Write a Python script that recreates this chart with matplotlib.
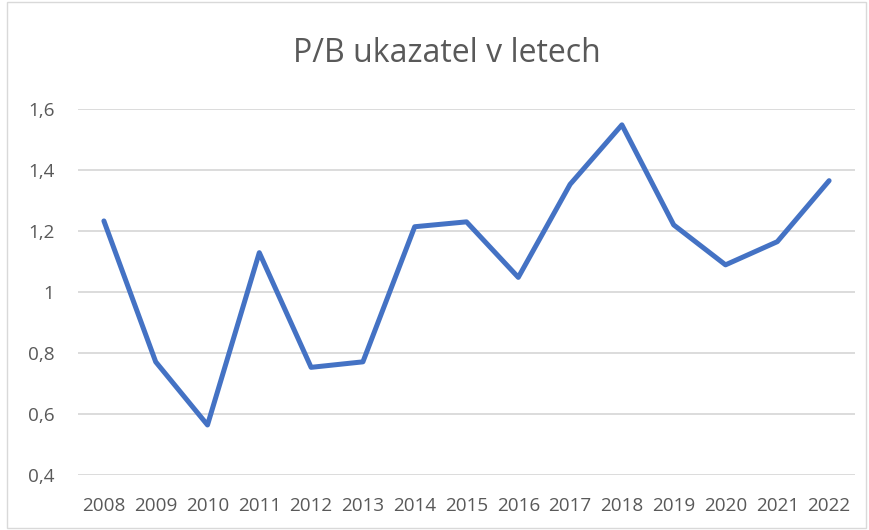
import matplotlib.pyplot as plt
from matplotlib.patches import Rectangle

years = ["2008", "2009", "2010", "2011", "2012", "2013", "2014", "2015",
         "2016", "2017", "2018", "2019", "2020", "2021", "2022"]
pb = [1.233, 0.771, 0.564, 1.129, 0.753, 0.771, 1.214, 1.230,
      1.048, 1.353, 1.548, 1.220, 1.089, 1.165, 1.365]
yticks = [0.4, 0.6, 0.8, 1.0, 1.2, 1.4, 1.6]
ylabels = ["0,4", "0,6", "0,8", "1", "1,2", "1,4", "1,6"]

plt.rcParams['font.family'] = ['Open Sans', 'DejaVu Sans']
txt = "#595959"

fig = plt.figure(figsize=(8.7, 5.3), dpi=100)
# chart border like in Excel
fig.patches.append(Rectangle((7 / 870, 2 / 530), 859 / 870, 526 / 530,
                             transform=fig.transFigure, fill=False,
                             edgecolor="#d9d9d9", linewidth=1))

ax = fig.add_axes([78 / 870, 1 - 475 / 530, 777 / 870, 366 / 530])
ax.plot(range(len(years)), pb, color="#4472C4", linewidth=3.6,
        solid_capstyle="round", solid_joinstyle="round", zorder=3)

ax.set_xlim(-0.5, len(years) - 0.5)
ax.set_ylim(0.4, 1.6)
ax.set_xticks(range(len(years)))
ax.set_xticklabels(years)
ax.set_yticks(yticks)
ax.set_yticklabels(ylabels)
ax.grid(axis="y", color="#d9d9d9", linewidth=1.3)
ax.set_axisbelow(True)
for s in ax.spines.values():
    s.set_visible(False)
ax.tick_params(length=0, labelsize=13.6, colors=txt)
ax.tick_params(axis="y", pad=17)
ax.tick_params(axis="x", pad=16)

fig.text(447 / 870, 1 - 54 / 530, "P/B ukazatel v letech", ha="center",
         va="center", fontsize=23, color=txt)

fig.savefig("out.png")
